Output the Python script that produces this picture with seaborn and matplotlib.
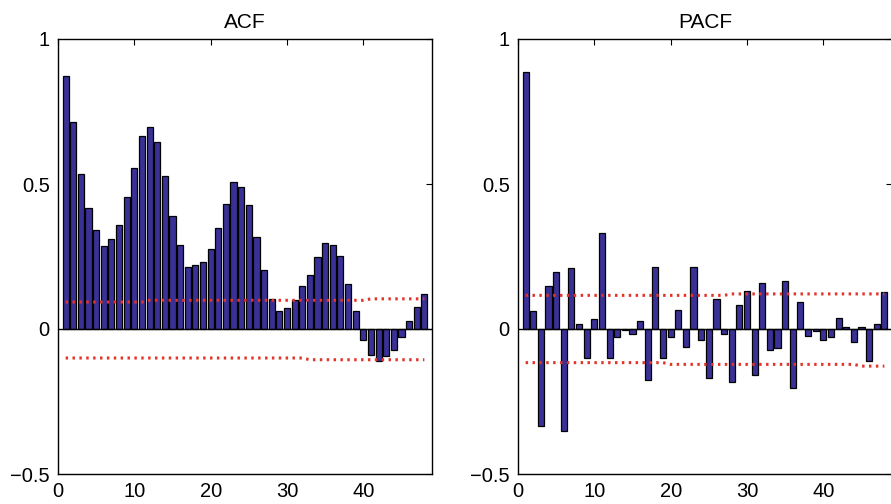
import numpy as np
import pandas as pd
import matplotlib
matplotlib.use("Agg")
import matplotlib.pyplot as plt
import seaborn as sns

# Lags shown in both correlograms
lags = list(range(1, 49))

# Sample autocorrelation coefficients
acf_values = [
    0.873, 0.714, 0.533, 0.417, 0.341, 0.286, 0.312, 0.357, 0.456, 0.556,
    0.665, 0.698, 0.644, 0.529, 0.391, 0.291, 0.215, 0.221, 0.231, 0.276,
    0.347, 0.430, 0.506, 0.490, 0.429, 0.318, 0.204, 0.104, 0.061, 0.072,
    0.099, 0.149, 0.187, 0.247, 0.298, 0.291, 0.253, 0.154, 0.061, -0.039,
    -0.089, -0.109, -0.094, -0.071, -0.028, 0.027, 0.077, 0.122,
]

# Sample partial autocorrelation coefficients
pacf_values = [
    0.885, 0.061, -0.336, 0.149, 0.198, -0.352, 0.209, 0.016, -0.100, 0.033,
    0.330, -0.100, -0.028, -0.002, -0.017, 0.027, -0.176, 0.215, -0.100, -0.028,
    0.065, -0.061, 0.215, -0.039, -0.170, 0.103, -0.017, -0.182, 0.084, 0.131,
    -0.160, 0.159, -0.073, -0.067, 0.164, -0.204, 0.093, -0.023, -0.006, -0.039,
    -0.028, 0.038, 0.006, -0.045, 0.006, -0.110, 0.016, 0.126,
]

# Confidence bounds (lag, value) at the lags where they shift
acf_upper_lags = [1, 11, 12, 40, 41, 48]
acf_upper_vals = [0.093, 0.093, 0.099, 0.099, 0.104, 0.104]
acf_lower_lags = [1, 32, 33, 48]
acf_lower_vals = [-0.100, -0.100, -0.106, -0.106]

pacf_upper_lags = [1, 27, 28, 48]
pacf_upper_vals = [0.116, 0.116, 0.121, 0.121]
pacf_lower_lags = [1, 19, 20, 44, 45, 48]
pacf_lower_vals = [-0.116, -0.116, -0.122, -0.122, -0.128, -0.128]

titles = ["ACF", "PACF"]
x_ticks = [0, 10, 20, 30, 40]
y_ticks = [-0.5, 0, 0.5, 1]
y_tick_labels = ["\u22120.5", "0", "0.5", "1"]

bar_color = "#3a3196"
bound_color = "#e3342a"

sns.set_theme(style="white")
plt.rcParams["font.family"] = ["Liberation Sans", "DejaVu Sans"]
plt.rcParams["axes.unicode_minus"] = True

fig = plt.figure(figsize=(8.91, 5.04), dpi=100)
W, H = 891, 504
ax_w, ax_h = 374, 435
ax_bottom = (H - 474) / H
axes = [
    fig.add_axes([58 / W, ax_bottom, ax_w / W, ax_h / H]),
    fig.add_axes([518 / W, ax_bottom, ax_w / W, ax_h / H]),
]

panels = [
    (acf_values, acf_upper_lags, acf_upper_vals, acf_lower_lags, acf_lower_vals),
    (pacf_values, pacf_upper_lags, pacf_upper_vals, pacf_lower_lags, pacf_lower_vals),
]

for ax, title, (vals, ul, uv, ll, lv) in zip(axes, titles, panels):
    df = pd.DataFrame({"lag": lags, "corr": vals})
    sns.barplot(data=df, x="lag", y="corr", native_scale=True, width=0.8,
                color=bar_color, saturation=1, edgecolor="black",
                linewidth=0.9, errorbar=None, ax=ax, zorder=2)
    ax.axhline(0, color="black", lw=1.0, zorder=3)
    for bl, bv in ((ul, uv), (ll, lv)):
        sns.lineplot(x=bl, y=bv, ax=ax, color=bound_color, lw=2.2,
                     linestyle=(0, (0.8, 1.45)), estimator=None, sort=False,
                     zorder=4)
    ax.set_xlim(0, 49)
    ax.set_ylim(-0.5, 1)
    ax.set_xticks(x_ticks)
    ax.set_xticklabels([str(t) for t in x_ticks])
    ax.set_yticks(y_ticks)
    ax.set_yticklabels(y_tick_labels)
    ax.set_xlabel("")
    ax.set_ylabel("")
    ax.set_title(title, fontsize=15, pad=8, color="black")
    ax.tick_params(axis="both", direction="in", length=4, width=0.8,
                   top=True, right=True, labelsize=14.5, colors="black")
    ax.tick_params(axis="x", pad=6)
    ax.tick_params(axis="y", pad=6)
    for sp in ax.spines.values():
        sp.set_visible(True)
        sp.set_color("black")
        sp.set_linewidth(1.0)

fig.savefig("out.png", dpi=100)
